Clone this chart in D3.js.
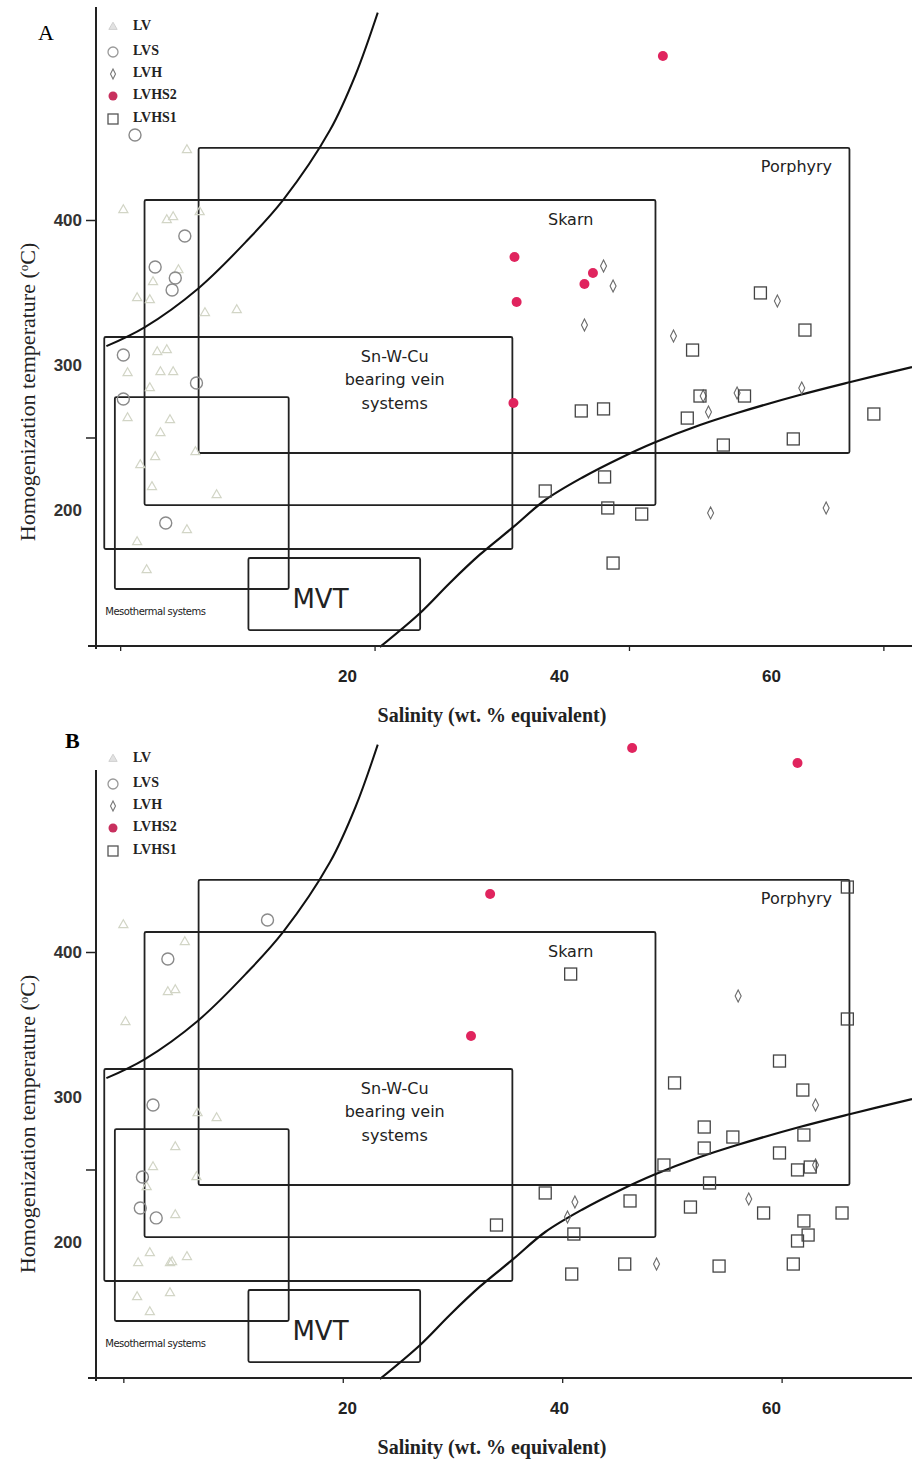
<!DOCTYPE html>
<html>
<head>
<meta charset="utf-8">
<script src="https://cdn.jsdelivr.net/npm/d3@7"></script>
<style>
  body { margin: 0; background: #fff; }
  svg { display: block; }
</style>
</head>
<body>
<div id="chart"></div>
<script>
// Data (salinity wt.% , homogenization temperature C)
var series_names    =   ["LV", "LVS", "LVH", "LVHS2", "LVHS1"];
var x_tick_labels   =   [20, 40, 60];
var y_tick_labels   =   [400, 300, 200];
var y_tick_marks    =   [400, 250];
var x_tick_marks_a  =   [-1.4, 22.6, 46.6, 70.6];
var x_tick_marks_b  =   [-1.1, 19.6, 40.3, 61.0];

// field boxes
var box_names       =   ["Porphyry", "Skarn", "Sn-W-Cu", "Mesothermal", "MVT"];
var box_salinity    =   [[6.0, 67.4], [0.9, 49.1], [-2.9, 35.6], [-1.9, 14.5], [10.7, 26.9]];
var box_temp        =   [[239.3, 449.7], [203.4, 413.8], [173.1, 319.3], [145.5, 277.9], [117.2, 166.9]];

// curves
var upper_curve     =   [[-2.7, 313], [0.9, 326], [6.0, 353], [10.6, 386], [14.0, 414],
                         [18.4, 462], [20.8, 500], [22.9, 543]];
var lower_curve     =   [[23.1, 105.5], [26.9, 129], [29.7, 149.7], [32.5, 169], [35.7, 188.3],
                         [38.7, 206.9], [42.3, 222.8], [45.8, 235.9], [48.9, 246.2], [53.3, 258.6],
                         [56.8, 266.9], [62.7, 279.3], [67.5, 288.3], [73.3, 298.6]];

// panel A
var a_lv    = [[4.9, 448.3], [-1.1, 406.9], [3.0, 400], [6.1, 405.5], [3.6, 402.1], [4.1, 365.5],
               [1.7, 357.2], [0.2, 346.2], [1.4, 344.8], [6.6, 335.9], [9.6, 337.9], [3.0, 310.3],
               [2.1, 309], [-0.7, 294.5], [2.4, 295.2], [3.6, 295.2], [1.4, 284.1], [-0.7, 263.4],
               [3.3, 262.1], [2.4, 253.1], [1.9, 236.6], [0.5, 231], [1.6, 215.9], [5.7, 240],
               [7.7, 210.3], [4.9, 186.2], [1.1, 158.6], [0.2, 177.9]];
var a_lvs   = [[0, 458.6], [4.7, 389], [1.9, 367.6], [3.8, 360], [3.5, 351.7], [-1.1, 306.9],
               [5.8, 287.6], [-1.1, 276.6], [2.9, 191]];
var a_lvh   = [[44.2, 368.3], [45.1, 354.5], [42.4, 327.6], [50.8, 320], [60.6, 344.1],
               [53.6, 278.6], [54.1, 267.6], [56.8, 280.7], [62.9, 284.1], [54.3, 198], [65.2, 201.4]];
var a_lvhs2 = [[49.8, 513.1], [35.8, 374.5], [43.2, 363.4], [42.4, 355.9], [36.0, 343.4], [35.7, 273.8]];
var a_lvhs1 = [[59.0, 349.7], [63.2, 324.1], [52.6, 310.3], [53.3, 278.6], [57.5, 278.6], [52.1, 263.4],
               [42.1, 268.3], [44.2, 269.7], [55.5, 244.8], [62.1, 249], [69.7, 266.2], [44.3, 222.8],
               [38.7, 213.1], [44.6, 201.4], [47.8, 197.2], [45.1, 163.4]];

// panel B
var b_lv    = [[-1.1, 418.6], [3.1, 372.4], [3.8, 373.8], [5.9, 289], [7.7, 285.5], [3.8, 265.5],
               [1.7, 251.7], [1.1, 237.9], [3.8, 218.6], [1.4, 192.4], [3.5, 186.2], [4.9, 189.7],
               [5.8, 244.8], [0.3, 185.5], [3.3, 185.5], [0.2, 162.1], [3.3, 164.8], [1.4, 151.7],
               [-0.9, 351.7], [4.7, 406.9]];
var b_lvs   = [[12.5, 422.1], [1.7, 294.5], [0.7, 244.8], [0.5, 223.4], [2.0, 216.6], [3.1, 395.2]];
var b_lvh   = [[56.9, 369.7], [64.2, 294.5], [64.2, 253.1], [41.5, 227.6], [40.8, 217.2],
               [57.9, 229.7], [49.2, 184.8]];
var b_lvhs2 = [[46.9, 540.7], [62.5, 530.3], [33.5, 440], [31.7, 342.1]];
var b_lvhs1 = [[67.2, 444.8], [41.1, 384.8], [67.2, 353.8], [60.8, 324.8], [50.9, 309.7], [63.0, 304.8],
               [53.7, 279.3], [56.4, 272.4], [63.1, 273.8], [53.7, 264.8], [60.8, 261.4], [49.9, 253.1],
               [62.5, 249.7], [63.7, 251.7], [54.2, 240.7], [38.7, 233.8], [46.7, 228.3], [52.4, 224.1],
               [59.3, 220], [63.1, 214.5], [66.7, 220], [34.1, 211.7], [41.4, 205.5], [63.5, 204.8],
               [62.5, 200.7], [46.2, 184.8], [55.1, 183.4], [62.1, 184.8], [41.2, 177.9]];

var chart_width     =   912;
var chart_height    =   1465;

// Scales (shared by both panels)
var x_scale         =   d3.scaleLinear().domain([-4, 73.3]).range([92.6, 912]);
var y_scale         =   d3.scaleLinear().domain([106.2, 546.9]).range([646, 7]);

var svg             =   d3.select("#chart")
    .append("svg")
    .attr("width", chart_width)
    .attr("height", chart_height)
    .style("background", "#fff");

var panels = [
    { letter: "A", dy: 0,   lx: 38, ly: 40, bold: false, top: 546.9, ticks: x_tick_marks_a,
      lv: a_lv, lvs: a_lvs, lvh: a_lvh, lvhs2: a_lvhs2, lvhs1: a_lvhs1 },
    { letter: "B", dy: 732, lx: 65, ly: 16, bold: true,  top: 525.5, ticks: x_tick_marks_b,
      lv: b_lv, lvs: b_lvs, lvh: b_lvh, lvhs2: b_lvhs2, lvhs1: b_lvhs1 }
];

var diamond = "M0,-6L3,0L0,6L-3,0Z";
var line = d3.line()
    .x(function(d) { return x_scale(d[0]); })
    .y(function(d) { return y_scale(d[1]); })
    .curve(d3.curveCatmullRom);

panels.forEach(function(p) {
    var g = svg.append("g").attr("transform", "translate(0," + p.dy + ")");

    // panel letter
    g.append("text")
        .attr("x", p.lx).attr("y", p.ly)
        .attr("font-family", "Liberation Serif")
        .attr("font-size", 22)
        .attr("font-weight", p.bold ? "bold" : "normal")
        .text(p.letter);

    // boxes
    box_names.forEach(function(name, i) {
        g.append("rect")
            .attr("x", x_scale(box_salinity[i][0]))
            .attr("y", y_scale(box_temp[i][1]))
            .attr("width", x_scale(box_salinity[i][1]) - x_scale(box_salinity[i][0]))
            .attr("height", y_scale(box_temp[i][0]) - y_scale(box_temp[i][1]))
            .attr("fill", "none")
            .attr("stroke", "#222")
            .attr("stroke-width", 1.8)
            .attr("rx", 1.5);
    });

    var label = function(x, y, size, txt) {
        g.append("text")
            .attr("x", x_scale(x)).attr("y", y_scale(y))
            .attr("text-anchor", "middle")
            .attr("dominant-baseline", "middle")
            .attr("font-family", "DejaVu Sans")
            .attr("font-size", size)
            .attr("fill", "#222")
            .text(txt);
    };
    label(62.4, 435.9, 16, "Porphyry");
    label(41.1, 400, 16, "Skarn");
    label(24.5, 305.5, 16, "Sn-W-Cu");
    label(24.5, 289, 16, "bearing vein");
    label(24.5, 273.1, 16, "systems");
    label(17.5, 137.9, 26, "MVT");
    g.append("text")
        .attr("x", x_scale(-2.8)).attr("y", y_scale(129.7))
        .attr("dominant-baseline", "middle")
        .attr("font-family", "DejaVu Sans")
        .attr("font-size", 10)
        .attr("letter-spacing", -0.5)
        .attr("fill", "#222")
        .text("Mesothermal systems");

    // curves
    g.append("path").datum(upper_curve).attr("d", line)
        .attr("fill", "none").attr("stroke", "#111").attr("stroke-width", 2);
    g.append("path").datum(lower_curve).attr("d", line)
        .attr("fill", "none").attr("stroke", "#111").attr("stroke-width", 2.2);

    // LV (faint triangles)
    g.selectAll(".lv").data(p.lv).enter().append("path")
        .attr("d", d3.symbol(d3.symbolTriangle, 36))
        .attr("transform", function(d) { return "translate(" + x_scale(d[0]) + "," + y_scale(d[1]) + ")"; })
        .attr("fill", "none").attr("stroke", "#d2d5c6").attr("stroke-width", 1.2);

    // LVS (open circles)
    g.selectAll(".lvs").data(p.lvs).enter().append("circle")
        .attr("cx", function(d) { return x_scale(d[0]); })
        .attr("cy", function(d) { return y_scale(d[1]); })
        .attr("r", 6)
        .attr("fill", "none").attr("stroke", "#8a8a8a").attr("stroke-width", 1.4);

    // LVH (diamonds)
    g.selectAll(".lvh").data(p.lvh).enter().append("path")
        .attr("d", diamond)
        .attr("transform", function(d) { return "translate(" + x_scale(d[0]) + "," + y_scale(d[1]) + ")"; })
        .attr("fill", "none").attr("stroke", "#6a6a6a").attr("stroke-width", 1.1);

    // LVHS1 (open squares)
    g.selectAll(".lvhs1").data(p.lvhs1).enter().append("rect")
        .attr("x", function(d) { return x_scale(d[0]) - 6; })
        .attr("y", function(d) { return y_scale(d[1]) - 6; })
        .attr("width", 12).attr("height", 12)
        .attr("fill", "none").attr("stroke", "#444").attr("stroke-width", 1.3);

    // LVHS2 (red dots)
    g.selectAll(".lvhs2").data(p.lvhs2).enter().append("circle")
        .attr("cx", function(d) { return x_scale(d[0]); })
        .attr("cy", function(d) { return y_scale(d[1]); })
        .attr("r", 5)
        .attr("fill", "#e0245e");

    // Axes
    var x_marks = d3.axisBottom(x_scale).tickValues(p.ticks).tickSize(5).tickFormat("");
    var xg = g.append("g").attr("transform", "translate(0," + y_scale(106.2) + ")").call(x_marks);
    xg.select(".domain").remove();
    xg.selectAll("line").attr("stroke", "#222").attr("stroke-width", 1.3);
    g.append("line")
        .attr("x1", 88).attr("x2", x_scale(73.3))
        .attr("y1", y_scale(106.2)).attr("y2", y_scale(106.2))
        .attr("stroke", "#222").attr("stroke-width", 2);

    var x_labels = d3.axisBottom(x_scale).tickValues(x_tick_labels).tickSize(0).tickPadding(24);
    var xl = g.append("g").attr("transform", "translate(0," + y_scale(106.2) + ")").call(x_labels);
    xl.select(".domain").remove();
    xl.selectAll("text").attr("font-family", "Liberation Sans").attr("font-weight", "bold")
        .attr("font-size", 17).attr("fill", "#222");

    var y_marks = d3.axisLeft(y_scale).tickValues(y_tick_marks).tickSize(10).tickFormat("");
    var yg = g.append("g").attr("transform", "translate(96,0)").call(y_marks);
    yg.select(".domain").remove();
    yg.selectAll("line").attr("stroke", "#222").attr("stroke-width", 1.5);
    g.append("line")
        .attr("x1", 96).attr("x2", 96)
        .attr("y1", y_scale(p.top)).attr("y2", y_scale(106.2) + 3)
        .attr("stroke", "#222").attr("stroke-width", 2);

    var y_labels = d3.axisLeft(y_scale).tickValues(y_tick_labels).tickSize(0).tickPadding(14);
    var yl = g.append("g").attr("transform", "translate(96,0)").call(y_labels);
    yl.select(".domain").remove();
    yl.selectAll("text").attr("font-family", "Liberation Sans").attr("font-weight", "bold")
        .attr("font-size", 17).attr("fill", "#333");

    // axis titles
    var yt = g.append("text")
        .attr("transform", "translate(35," + 392 + ") rotate(-90)")
        .attr("text-anchor", "middle")
        .attr("font-family", "Liberation Serif")
        .attr("font-size", 22)
        .attr("fill", "#222");
    yt.append("tspan").text("Homogenization temperature (");
    yt.append("tspan").attr("baseline-shift", "super").attr("font-size", 13).text("o");
    yt.append("tspan").text("C)");

    g.append("text")
        .attr("x", 492).attr("y", 722)
        .attr("text-anchor", "middle")
        .attr("font-family", "Liberation Serif")
        .attr("font-weight", "bold")
        .attr("font-size", 20)
        .attr("fill", "#222")
        .text("Salinity (wt. % equivalent)");

    // legend
    var leg_y = [27, 52, 74, 96, 119];
    series_names.forEach(function(name, i) {
        var sx = 113, sy = leg_y[i];
        if (i === 0) {
            g.append("path").attr("d", d3.symbol(d3.symbolTriangle, 30))
                .attr("transform", "translate(" + sx + "," + sy + ")")
                .attr("fill", "#e2e2e2").attr("stroke", "#d0d0d0");
        } else if (i === 1) {
            g.append("circle").attr("cx", sx).attr("cy", sy).attr("r", 5)
                .attr("fill", "none").attr("stroke", "#999").attr("stroke-width", 1.3);
        } else if (i === 2) {
            g.append("path").attr("d", "M0,-5L2.5,0L0,5L-2.5,0Z")
                .attr("transform", "translate(" + sx + "," + sy + ")")
                .attr("fill", "none").attr("stroke", "#777").attr("stroke-width", 1.1);
        } else if (i === 3) {
            g.append("circle").attr("cx", sx).attr("cy", sy).attr("r", 4.5).attr("fill", "#c8305e");
        } else {
            g.append("rect").attr("x", sx - 5).attr("y", sy - 5).attr("width", 10).attr("height", 10)
                .attr("fill", "none").attr("stroke", "#555").attr("stroke-width", 1.3);
        }
        g.append("text")
            .attr("x", 133).attr("y", sy)
            .attr("dominant-baseline", "middle")
            .attr("font-family", "Liberation Serif")
            .attr("font-weight", "bold")
            .attr("font-size", 14)
            .attr("fill", "#222")
            .text(name);
    });
});
</script>
</body>
</html>
